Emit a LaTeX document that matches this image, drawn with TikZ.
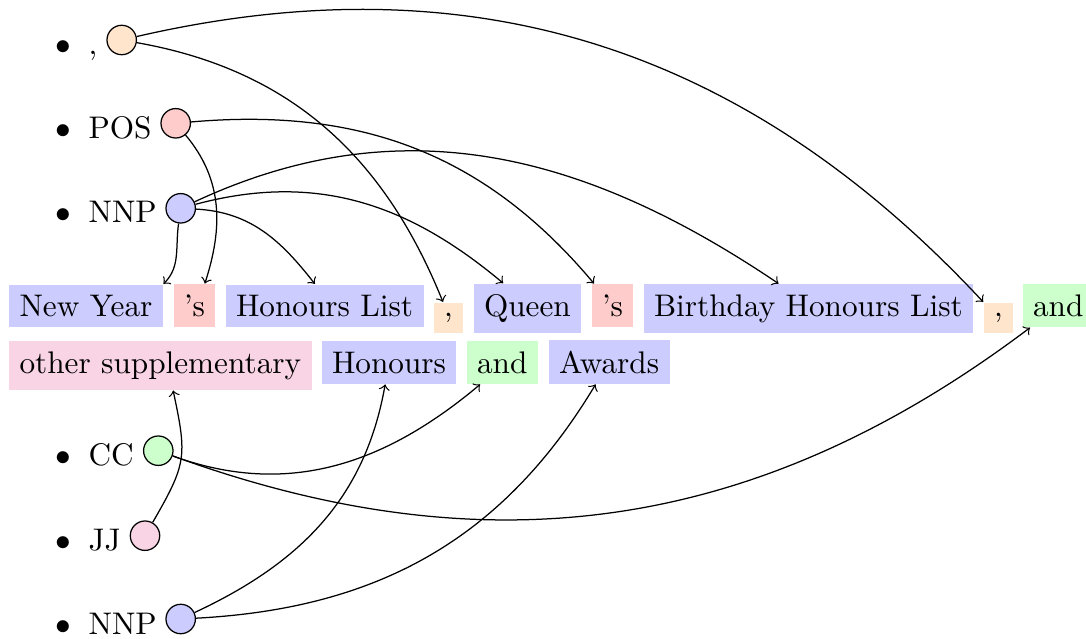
\documentclass[tikz,border=0pt]{standalone}
\definecolor{nnpc}{RGB}{204,204,255}
\definecolor{posc}{RGB}{255,204,204}
\definecolor{punc}{RGB}{255,229,204}
\definecolor{ccc}{RGB}{204,255,204}
\definecolor{jjc}{RGB}{248,212,228}
\begin{document}
\begin{tikzpicture}[x=0.32pt, y=0.32pt,
  tok/.style={anchor=base west, inner sep=0.333em},
  tag/.style={circle, draw, inner sep=0.333em, line width=0.4pt},
  lab/.style={anchor=base west, inner sep=0pt},
  dot/.style={anchor=base, inner sep=0pt},
  link/.style={->, line width=0.4pt}]
\useasboundingbox (0,0) rectangle (1086,-639);

% tag legend: bullet, tag name, coloured circle
\node[dot] (b1) at (63.3,-54.6) {$\bullet$};
\node[lab] (l1) at (88,-54.6) {,};
\node[tag, fill=punc] (c1) at (121.7,-40) {};

\node[dot] (b2) at (63.3,-138.1) {$\bullet$};
\node[lab] (l2) at (88,-138.1) {POS};
\node[tag, fill=posc] (pos) at (175.7,-123.3) {};

\node[dot] (b3) at (63.3,-222.9) {$\bullet$};
\node[lab] (l3) at (88,-222.9) {NNP};
\node[tag, fill=nnpc] (nnp1) at (180.7,-208.3) {};

\node[dot] (b4) at (63.3,-465.8) {$\bullet$};
\node[lab] (l4) at (88,-465.8) {CC};
\node[tag, fill=ccc] (cc) at (158.3,-450.7) {};

\node[dot] (b5) at (63.3,-550) {$\bullet$};
\node[lab] (l5) at (88,-550) {JJ};
\node[tag, fill=jjc] (jj) at (145,-535.7) {};

\node[dot] (b6) at (63.3,-634.5) {$\bullet$};
\node[lab] (l6) at (88,-634.5) {NNP};
\node[tag, fill=nnpc] (nnp2) at (180.7,-619) {};

% the tagged sentence, first line
\node[tok, fill=nnpc] (w1) at (8.5,-316.3) {New Year};
\node[tok, fill=posc] (w2) at (173,-316.3) {'s};
\node[tok, fill=nnpc] (w3) at (225,-316.3) {Honours List};
\node[tok, fill=punc] (w4) at (433,-316.3) {,};
\node[tok, fill=nnpc] (w5) at (473,-316.3) {Queen};
\node[tok, fill=posc] (w6) at (591,-316.3) {'s};
\node[tok, fill=nnpc] (w7) at (643,-316.3) {Birthday Honours List};
\node[tok, fill=punc] (w8) at (983,-316.3) {,};
\node[tok, fill=ccc] (w9) at (1022,-316.3) {and};

% second line
\node[tok, fill=jjc] (w10) at (8.5,-373) {other supplementary};
\node[tok, fill=nnpc] (w11) at (321,-373) {Honours};
\node[tok, fill=ccc] (w12) at (466,-373) {and};
\node[tok, fill=nnpc] (w13) at (548,-373) {Awards};

% links from tags to tokens
\draw[link] (c1) to[out=-10, in=112] (w4.109);
\draw[link] (c1) to[out=13, in=133] (w8.134);
\draw[link] (pos) to[out=-50, in=72] (w2.65);
\draw[link] (pos) to[out=5, in=130] (w6.130);
\draw[link] (nnp1) to[out=-98, in=45] (w1.north east);
\draw[link] (nnp1) to[out=-3, in=128] (w3.114);
\draw[link] (nnp1) to[out=15, in=140] (w5.134);
\draw[link] (nnp1) to[out=25, in=146] (w7.140);
\draw[link] (cc) to[out=-20, in=-140] (w12.-135);
\draw[link] (cc) to[out=-20, in=-143] (w9.-142);
\draw[link] (jj) to[out=60, in=-78, looseness=1.3] (w10.-63);
\draw[link] (nnp2) to[out=25, in=-100] (w11.-100);
\draw[link] (nnp2) to[out=3, in=-121] (w13.-121);
\end{tikzpicture}
\end{document}
